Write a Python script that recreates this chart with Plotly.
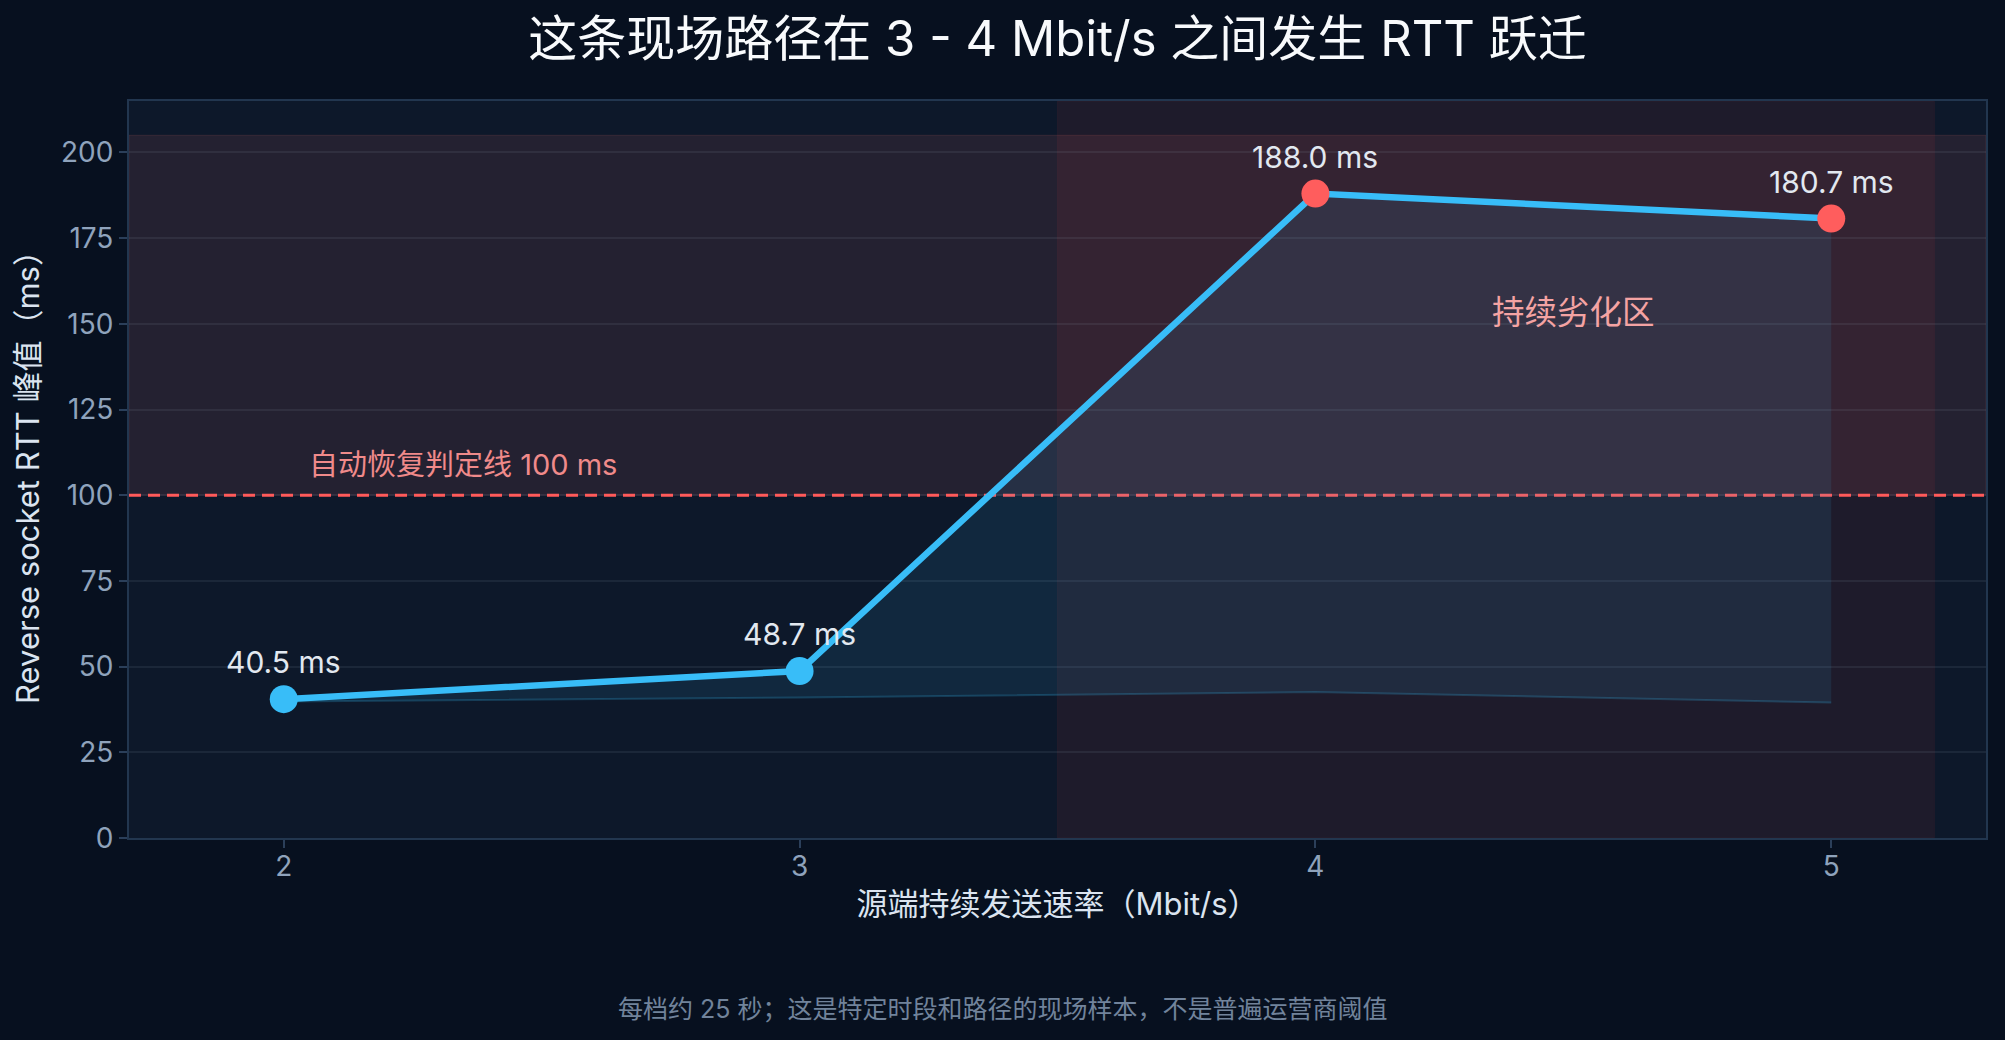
import plotly.graph_objects as go

# ---- data ----
rates = [2, 3, 4, 5]                      # Mbit/s
peak_rtt = [40.5, 48.7, 188.0, 180.7]     # ms, peak reverse socket RTT
base_rtt = [39.8, 41.0, 42.6, 39.5]       # ms, lower envelope of the shaded band
threshold = 100                            # ms, auto-recovery threshold
x_range = [1.7, 5.3]
y_range = [0, 215]
y_ticks = [0, 25, 50, 75, 100, 125, 150, 175, 200]
zone_x = [3.5, 5.2]                        # sustained degradation zone
band_y = [100, 205]                        # above-threshold band

FONT = "Inter, Noto Sans CJK SC, sans-serif"
BLUE = "#38bdf8"
RED = "#ff5d5d"

marker_colors = [BLUE if v < threshold else RED for v in peak_rtt]

fig = go.Figure()

# threshold line
fig.add_trace(go.Scatter(
    x=x_range, y=[threshold, threshold], mode="lines",
    line=dict(color="#ff5a5a", width=3, dash="12px,7px"),
    hoverinfo="skip", showlegend=False,
))

# lower envelope
fig.add_trace(go.Scatter(
    x=rates, y=base_rtt, mode="lines",
    line=dict(color="rgba(56,189,248,0.22)", width=2),
    hoverinfo="skip", showlegend=False,
))

# peak RTT line
fig.add_trace(go.Scatter(
    x=rates, y=peak_rtt, mode="lines+markers",
    fill="tonexty", fillcolor="rgba(56,189,248,0.10)",
    line=dict(color=BLUE, width=6.5),
    marker=dict(size=28, color=marker_colors, line=dict(width=0)),
    showlegend=False,
))

shapes = [
    dict(type="rect", xref="paper", yref="y", x0=0, x1=1, y0=band_y[0], y1=band_y[1],
         fillcolor="rgba(248,113,113,0.10)", line=dict(width=1, color="rgba(248,113,113,0.12)"),
         layer="below"),
    dict(type="rect", xref="x", yref="paper", x0=zone_x[0], x1=zone_x[1], y0=0, y1=1,
         fillcolor="rgba(239,68,68,0.08)", line=dict(width=1, color="rgba(239,68,68,0.06)"),
         layer="below"),
]

annotations = []
for x, v in zip(rates, peak_rtt):
    annotations.append(dict(
        x=x, y=v, text=f"{v:.1f} ms", showarrow=False, yshift=37,
        xanchor="center", yanchor="middle",
        font=dict(family=FONT, size=30, color="#e2e8f0"),
    ))

annotations.append(dict(
    x=2.045, y=threshold, text=f"自动恢复判定线 {threshold} ms", showarrow=False,
    xanchor="left", yanchor="middle", yshift=31,
    font=dict(family=FONT, size=29, color="#f08a8a"),
))
annotations.append(dict(
    x=4.5, y=153.4, text="持续劣化区", showarrow=False,
    xanchor="center", yanchor="middle",
    font=dict(family=FONT, size=32.5, color="#f4a3a3"),
))
annotations.append(dict(
    xref="paper", yref="paper", x=0.4704, y=-0.232,
    text="每档约 25 秒；这是特定时段和路径的现场样本，不是普遍运营商阈值",
    showarrow=False, xanchor="center", yanchor="middle",
    font=dict(family=FONT, size=25, color="#71839b"),
))

fig.update_layout(
    width=2005, height=1040,
    paper_bgcolor="#07101f", plot_bgcolor="#0d182a",
    margin=dict(l=129, r=19, t=101, b=202),
    font=dict(family=FONT, color="#dbe4f0"),
    title=dict(
        text="这条现场路径在 3 - 4 Mbit/s 之间发生 RTT 跃迁",
        x=0.5, xref="paper", xanchor="center",
        y=1 - 39 / 1040, yref="container", yanchor="middle",
        font=dict(family=FONT, size=49, color="#f8fafc"),
    ),
    shapes=shapes,
    annotations=annotations,
    hovermode=False,
    showlegend=False,
)

fig.update_xaxes(
    range=x_range, tickvals=rates, ticktext=[str(r) for r in rates],
    showgrid=False, zeroline=False,
    showline=True, linecolor="#22364f", linewidth=2, mirror=True,
    ticks="outside", ticklen=8, tickwidth=2, tickcolor="#2b3f5a",
    ticklabelstandoff=-6,
    tickfont=dict(family=FONT, size=28, color="#8fa3bc"),
    title=dict(text="源端持续发送速率（Mbit/s）", standoff=12,
               font=dict(family=FONT, size=31, color="#dbe4f0")),
)
fig.update_yaxes(
    range=y_range, tickvals=y_ticks,
    showgrid=True, gridcolor="rgba(148,163,184,0.11)", gridwidth=2,
    zeroline=False,
    showline=True, linecolor="#22364f", linewidth=2, mirror=True,
    ticks="outside", ticklen=8, tickwidth=2, tickcolor="#2b3f5a",
    tickfont=dict(family=FONT, size=28, color="#8fa3bc"),
    title=dict(text="Reverse socket RTT 峰值（ms）", standoff=12,
               font=dict(family=FONT, size=31, color="#dbe4f0")),
)

fig.write_html(
    "out.html",
    config={"displayModeBar": False},
    post_script="document.body.style.margin='0';document.body.style.padding='0';"
                "document.body.style.background='#07101f';"
                "document.documentElement.style.overflow='hidden';",
)
